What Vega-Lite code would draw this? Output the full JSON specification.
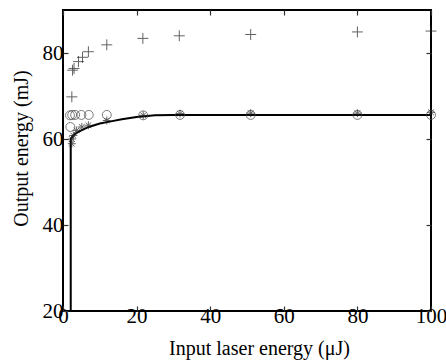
{
  "$schema": "https://vega.github.io/schema/vega-lite/v6.json",
  "width": 368,
  "height": 301,
  "autosize": {"type": "none"},
  "padding": {"left": 63, "top": 10, "right": 15, "bottom": 49},
  "background": "white",
  "config": {
    "view": {"stroke": "black", "strokeWidth": 2},
    "font": "Liberation Serif",
    "axis": {
      "grid": false,
      "domain": false,
      "ticks": true,
      "tickColor": "#333",
      "tickSize": -5,
      "tickWidth": 1.2,
      "labelColor": "black",
      "labelFont": "Liberation Serif",
      "labelFontSize": 21,
      "labelFlush": false,
      "labelOverlap": false,
      "titleFontWeight": "normal",
      "titleColor": "black"
    }
  },
  "datasets": {
    "curve": [
      {"x": 2.1, "y": 20}, {"x": 2.1, "y": 60}, {"x": 2.5, "y": 60.5}, {"x": 3, "y": 61},
      {"x": 3.7, "y": 61.4}, {"x": 5, "y": 62}, {"x": 7, "y": 62.8}, {"x": 10, "y": 63.6},
      {"x": 13, "y": 64.1}, {"x": 16, "y": 64.6}, {"x": 20, "y": 65.1}, {"x": 25, "y": 65.5},
      {"x": 30, "y": 65.6}, {"x": 100, "y": 65.6}
    ],
    "plus": [
      {"x": 2.4, "y": 69.8}, {"x": 2.6, "y": 76}, {"x": 3, "y": 76.4}, {"x": 4.2, "y": 78},
      {"x": 5.3, "y": 79}, {"x": 6.9, "y": 80.3}, {"x": 11.9, "y": 81.9}, {"x": 21.7, "y": 83.4},
      {"x": 31.6, "y": 84}, {"x": 51, "y": 84.3}, {"x": 80, "y": 84.9}, {"x": 100, "y": 85.1}
    ],
    "circle": [
      {"x": 2.0, "y": 62.8}, {"x": 1.9, "y": 65.5}, {"x": 2.5, "y": 65.6}, {"x": 3.3, "y": 65.6},
      {"x": 5, "y": 65.6}, {"x": 7, "y": 65.6}, {"x": 11.9, "y": 65.6}, {"x": 21.8, "y": 65.5},
      {"x": 31.8, "y": 65.6}, {"x": 51, "y": 65.6}, {"x": 80, "y": 65.6}, {"x": 100, "y": 65.6}
    ],
    "star": [
      {"x": 2.4, "y": 58.9}, {"x": 2.4, "y": 60}, {"x": 2.8, "y": 60.8}, {"x": 3.7, "y": 62},
      {"x": 5.1, "y": 62.8}, {"x": 6.9, "y": 63.2}, {"x": 11.9, "y": 64.3}, {"x": 21.8, "y": 65.5},
      {"x": 31.8, "y": 65.9}, {"x": 51, "y": 66}, {"x": 80, "y": 66}, {"x": 100, "y": 66.2}
    ]
  },
  "layer": [
    {
      "layer": [
        {
          "data": {"name": "curve"},
          "mark": {"type": "line", "color": "black", "strokeWidth": 2},
          "encoding": {
            "x": {"field": "x", "type": "quantitative", "scale": {"domain": [0, 100], "nice": false, "zero": false},
                  "axis": {"values": [0, 20, 40, 60, 80, 100], "title": "Input laser energy (μJ)", "format": "d",
                           "labelPadding": -1, "labelBaseline": "top",
                           "titleFont": "Liberation Serif", "titleFontSize": 20, "titleX": 196, "titleY": 43, "titleBaseline": "alphabetic"}},
            "y": {"field": "y", "type": "quantitative", "scale": {"domain": [20, 90], "nice": false, "zero": false},
                  "axis": {"values": [20, 40, 60, 80], "title": "Output energy (mJ)", "format": "d",
                           "labelPadding": 5,
                           "titleFont": "Liberation Serif", "titleFontSize": 20, "titleX": -36, "titleY": 138, "titleBaseline": "alphabetic"}},
            "order": {"field": "x"}
          }
        },
        {
          "data": {"name": "circle"},
          "mark": {"type": "point", "shape": "circle", "filled": false, "color": "#444", "strokeWidth": 1, "size": 80},
          "encoding": {
            "x": {"field": "x", "type": "quantitative"},
            "y": {"field": "y", "type": "quantitative"}
          }
        },
        {
          "data": {"name": "plus"},
          "mark": {"type": "point", "shape": "M-1,0L1,0M0,-1L0,1", "filled": false, "color": "#222", "strokeWidth": 1, "size": 120},
          "encoding": {
            "x": {"field": "x", "type": "quantitative"},
            "y": {"field": "y", "type": "quantitative"}
          }
        },
        {
          "data": {"name": "star"},
          "mark": {"type": "point", "shape": "M-1,0L1,0M0,-1L0,1M-0.7,-0.7L0.7,0.7M-0.7,0.7L0.7,-0.7", "filled": false, "color": "#222", "strokeWidth": 1, "size": 64},
          "encoding": {
            "x": {"field": "x", "type": "quantitative"},
            "y": {"field": "y", "type": "quantitative"}
          }
        }
      ]
    },
    {
      "data": {"name": "circle"},
      "mark": {"type": "point", "opacity": 0},
      "encoding": {
        "x": {"field": "x", "type": "quantitative", "axis": {"orient": "top", "labels": false, "title": null, "values": [0, 20, 40, 60, 80, 100]}},
        "y": {"field": "y", "type": "quantitative", "axis": {"orient": "right", "labels": false, "title": null, "values": [20, 40, 60, 80]}}
      }
    }
  ],
  "resolve": {"axis": {"x": "independent", "y": "independent"}}
}
